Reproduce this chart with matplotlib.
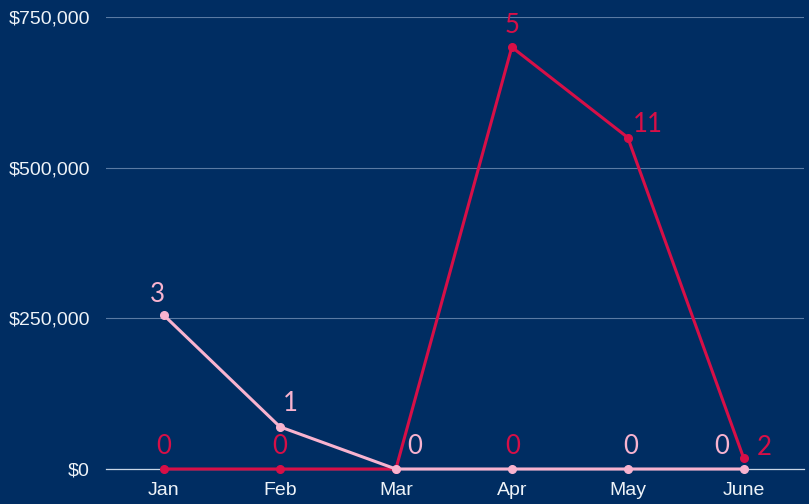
import matplotlib
matplotlib.use("Agg")
import matplotlib.pyplot as plt
from matplotlib.ticker import FuncFormatter

months = ["Jan", "Feb", "Mar", "Apr", "May", "June"]
red_values = [0, 0, 0, 700000, 550000, 18000]
pink_values = [255000, 70000, 0, 0, 0, 0]
red_counts = ["0", "0", "", "5", "11", "2"]
pink_counts = ["3", "1", "0", "0", "0", "0"]
y_ticks = [0, 250000, 500000, 750000]

BG = "#002d62"
RED = "#d70f47"
PINK = "#f8b3cf"
TXT = "#eef3f8"
GRID = "#5a7aa3"

fig = plt.figure(figsize=(8.09, 5.04), dpi=100, facecolor=BG)
ax = fig.add_axes([106/809, 35/504, (804-106)/809, (469-17)/504])
ax.set_facecolor(BG)

x = list(range(len(months)))
ax.plot(x, red_values, color=RED, lw=2.2, marker="o", ms=5.5, zorder=3, clip_on=False)
ax.plot(x, pink_values, color=PINK, lw=2.2, marker="o", ms=5.5, zorder=4, clip_on=False)

# label offsets in pixels (dx, dy) and colours as seen in the reference
red_off = [(0, 22), (0, 22), (0, 22), (0, 22), (20, 13), (20, 11)]
red_lcol = [RED, RED, RED, RED, RED, RED]
pink_off = [(-7, 21), (10, 23), (19, 22), (1, 22), (3, 22), (-22, 22)]
pink_lcol = [PINK, PINK, PINK, RED, PINK, PINK]

lab_font = dict(fontsize=18.5, family="Lato", va="center", ha="center")
for i in x:
    if red_counts[i]:
        ax.annotate(red_counts[i], (i, red_values[i]), xytext=red_off[i],
                    textcoords="offset pixels", color=red_lcol[i], **lab_font, zorder=5)
    if pink_counts[i]:
        ax.annotate(pink_counts[i], (i, pink_values[i]), xytext=pink_off[i],
                    textcoords="offset pixels", color=pink_lcol[i], **lab_font, zorder=5)

ax.set_xlim(-0.5, 5.52)
ax.set_ylim(0, 750000)
ax.set_yticks(y_ticks)
ax.yaxis.set_major_formatter(FuncFormatter(lambda v, p: "${:,.0f}".format(v)))
ax.set_xticks(x)
ax.set_xticklabels(months)
ax.tick_params(axis="both", length=0, colors=TXT, labelsize=14)
ax.tick_params(axis="x", pad=9.5)
ax.tick_params(axis="y", pad=11.5)
for lab in ax.get_xticklabels() + ax.get_yticklabels():
    lab.set_family("Liberation Sans")
    lab.set_color(TXT)

ax.grid(axis="y", color=GRID, lw=0.8)
ax.set_axisbelow(True)
for s in ["top", "right", "left"]:
    ax.spines[s].set_visible(False)
ax.spines["bottom"].set_color("#c9d6e6")
ax.spines["bottom"].set_linewidth(0.9)

fig.savefig("out.png", dpi=100, facecolor=BG)
